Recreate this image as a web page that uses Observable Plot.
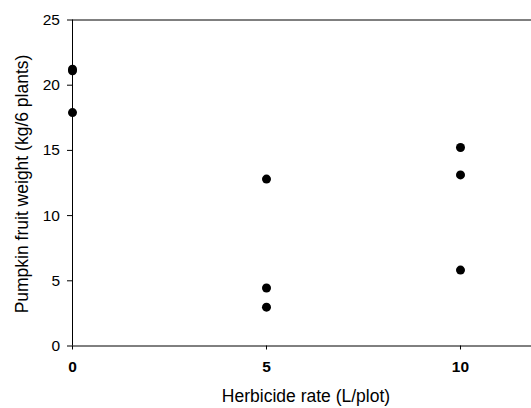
<!DOCTYPE html>
<html>
<head>
<meta charset="utf-8">
<script src="https://cdn.jsdelivr.net/npm/d3@7"></script>
<script src="https://cdn.jsdelivr.net/npm/@observablehq/plot@0.6"></script>
<style>
  html, body { margin: 0; padding: 0; background: #fff; }
  #chart svg { display: block; }
</style>
</head>
<body>
<div id="chart"></div>
<script>
const rates = [0, 0, 0, 5, 5, 5, 10, 10, 10];
const weights = [21.22, 21.1, 17.9, 12.8, 4.45, 2.98, 15.22, 13.12, 5.82];
const xTicks = [0, 5, 10];
const yTicks = [0, 5, 10, 15, 20, 25];
const xLabel = "Herbicide rate (L/plot)";
const yLabel = "Pumpkin fruit weight (kg/6 plants)";

const data = rates.map((r, i) => ({rate: r, weight: weights[i]}));

const chart = Plot.plot({
  width: 531,
  height: 408,
  marginLeft: 72,
  marginRight: 0,
  marginTop: 19.5,
  marginBottom: 62.5,
  style: {fontFamily: "'Liberation Sans', Arial, sans-serif", fontSize: "15px", color: "#000", background: "#fff"},
  x: {domain: [0, 11.83], ticks: xTicks},
  y: {domain: [0, 25], ticks: yTicks},
  marks: [
    Plot.axisY({ticks: yTicks, tickSize: 5, tickPadding: 7.5, label: null, fontSize: 15.5}),
    Plot.axisX({ticks: xTicks, tickSize: 4, tickPadding: 11, label: null, fontSize: 15.5, fontWeight: "bold"}),
    Plot.text([xLabel], {frameAnchor: "bottom", text: d => d, dx: 4, dy: 50, textAnchor: "middle", lineAnchor: "middle", fontSize: 17.5, fill: "#000"}),
    Plot.text([yLabel], {frameAnchor: "left", text: d => d, dx: -50, dy: 1, rotate: -90, textAnchor: "middle", lineAnchor: "middle", fontSize: 17.5, fill: "#000"}),
    Plot.ruleY([25], {stroke: "#000", strokeWidth: 1}),
    Plot.ruleY([0], {stroke: "#000", strokeWidth: 1}),
    Plot.ruleX([0], {stroke: "#000", strokeWidth: 1}),
    Plot.dot(data, {x: "rate", y: "weight", r: 4.5, fill: "#000", stroke: "none"})
  ]
});
document.getElementById("chart").appendChild(chart);
</script>
</body>
</html>
